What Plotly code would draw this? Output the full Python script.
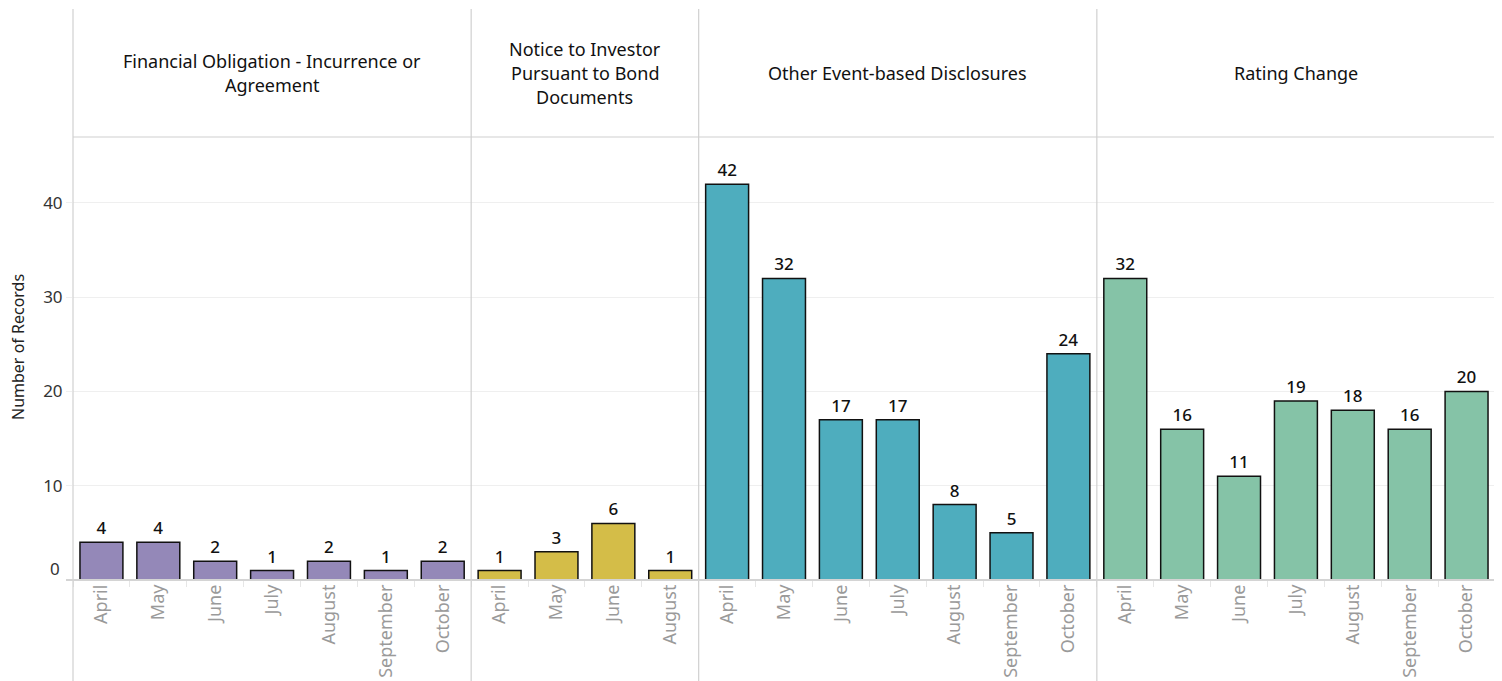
import plotly.graph_objects as go

# ---- data ----
panel_titles = [
    ["Financial Obligation - Incurrence or", "Agreement"],
    ["Notice to Investor", "Pursuant to Bond", "Documents"],
    ["Other Event-based Disclosures"],
    ["Rating Change"],
]
months_p1 = ["April", "May", "June", "July", "August", "September", "October"]
values_p1 = [4, 4, 2, 1, 2, 1, 2]
months_p2 = ["April", "May", "June", "August"]
values_p2 = [1, 3, 6, 1]
months_p3 = ["April", "May", "June", "July", "August", "September", "October"]
values_p3 = [42, 32, 17, 17, 8, 5, 24]
months_p4 = ["April", "May", "June", "July", "August", "September", "October"]
values_p4 = [32, 16, 11, 19, 18, 16, 20]
y_ticks = [0, 10, 20, 30, 40]
y_title = "Number of Records"

colors = ["#9488b8", "#d4bd48", "#4eadbe", "#85c3a7"]
months = [months_p1, months_p2, months_p3, months_p4]
values = [values_p1, values_p2, values_p3, values_p4]

# page body has an 8px margin, so the figure is offset by (8, 8)
W, H = 1494, 673
ml, mr, mt, mb = 65, 7, 1, 101
plot_h = H - mt - mb
header_h = 128
ydom_top = 1 - header_h / plot_h
YMAX = 47.0

FONT = "Noto Sans"
fig = go.Figure()

total = sum(len(m) for m in months)
bounds = [0.0]
acc = 0
for m in months:
    acc += len(m)
    bounds.append(acc / total)

layout = dict()
for i, (m, v, c) in enumerate(zip(months, values, colors)):
    idx = "" if i == 0 else str(i + 1)
    fig.add_trace(go.Bar(
        x=m, y=v,
        xaxis="x" + idx, yaxis="y" + idx,
        marker=dict(color=c, line=dict(color="#111111", width=1.5)),
        width=0.755,
        text=v, textposition="outside", cliponaxis=False,
        textfont=dict(family=FONT, size=17, color="#111111", weight=500),
        showlegend=False,
    ))
    layout["xaxis" + idx] = dict(
        domain=[bounds[i], bounds[i + 1]],
        anchor="y" + idx,
        type="category",
        range=[-0.5, len(m) - 0.5],
        tickangle=-90,
        tickfont=dict(family=FONT, size=18, color="#9a9a9a"),
        ticks="outside", tickson="boundaries", ticklen=6,
        tickcolor="#e6e6e6", tickwidth=1,
        showline=False, showgrid=False, zeroline=False,
        automargin=False, fixedrange=True,
    )
    layout["yaxis" + idx] = dict(
        domain=[0, ydom_top],
        anchor="x" + idx,
        range=[0, YMAX],
        tickvals=y_ticks,
        ticktext=["" if t == 0 else str(t) for t in y_ticks],
        showticklabels=(i == 0),
        tickfont=dict(family=FONT, size=17, color="#333333"),
        showgrid=True, gridcolor="#efefef", gridwidth=1,
        zeroline=False, showline=False,
        ticks="outside" if i == 0 else "", ticklen=6, tickcolor="#efefef",
        automargin=False, fixedrange=True,
    )

shapes = []
line_col = "#d0d0d0"
bottom_y = -mb / plot_h
for b in bounds:
    shapes.append(dict(type="line", xref="paper", yref="paper",
                       x0=b, x1=b, y0=bottom_y, y1=1,
                       line=dict(color=line_col, width=1.2)))
shapes.append(dict(type="line", xref="paper", yref="paper",
                   x0=0, x1=1, y0=ydom_top, y1=ydom_top,
                   line=dict(color=line_col, width=1.2)))
shapes.append(dict(type="line", xref="paper", yref="paper",
                   x0=-7 / (W - ml - mr), x1=1, y0=0, y1=0,
                   line=dict(color="#d4d4d4", width=2)))

annotations = []
# zero tick label sits a little above the baseline
annotations.append(dict(
    text=str(y_ticks[0]), xref="paper", yref="y",
    x=0, y=y_ticks[0], xshift=-11, yshift=12,
    showarrow=False, xanchor="right", yanchor="middle",
    font=dict(family=FONT, size=17, color="#333333"),
))
# y-axis title
annotations.append(dict(
    text=y_title, xref="paper", yref="paper",
    x=0, y=(572 - 339) / plot_h, xshift=-(ml - 10),
    textangle=-90, showarrow=False, xanchor="center", yanchor="middle",
    font=dict(family=FONT, size=16, color="#222222"),
))
header_mid = ydom_top + (1 - ydom_top) / 2
line_gap = 24
for i, lines in enumerate(panel_titles):
    n = len(lines)
    for j, t in enumerate(lines):
        annotations.append(dict(
            text=t, xref="paper", yref="paper",
            x=(bounds[i] + bounds[i + 1]) / 2, y=header_mid,
            yshift=((n - 1) / 2 - j) * line_gap,
            showarrow=False, xanchor="center", yanchor="middle",
            font=dict(family=FONT, size=18, color="#111111"),
        ))

fig.update_layout(
    width=W, height=H,
    margin=dict(l=ml, r=mr, t=mt, b=mb),
    paper_bgcolor="white", plot_bgcolor="white",
    shapes=shapes, annotations=annotations,
    bargap=0.25,
    **layout,
)

fig.write_html("out.html")
